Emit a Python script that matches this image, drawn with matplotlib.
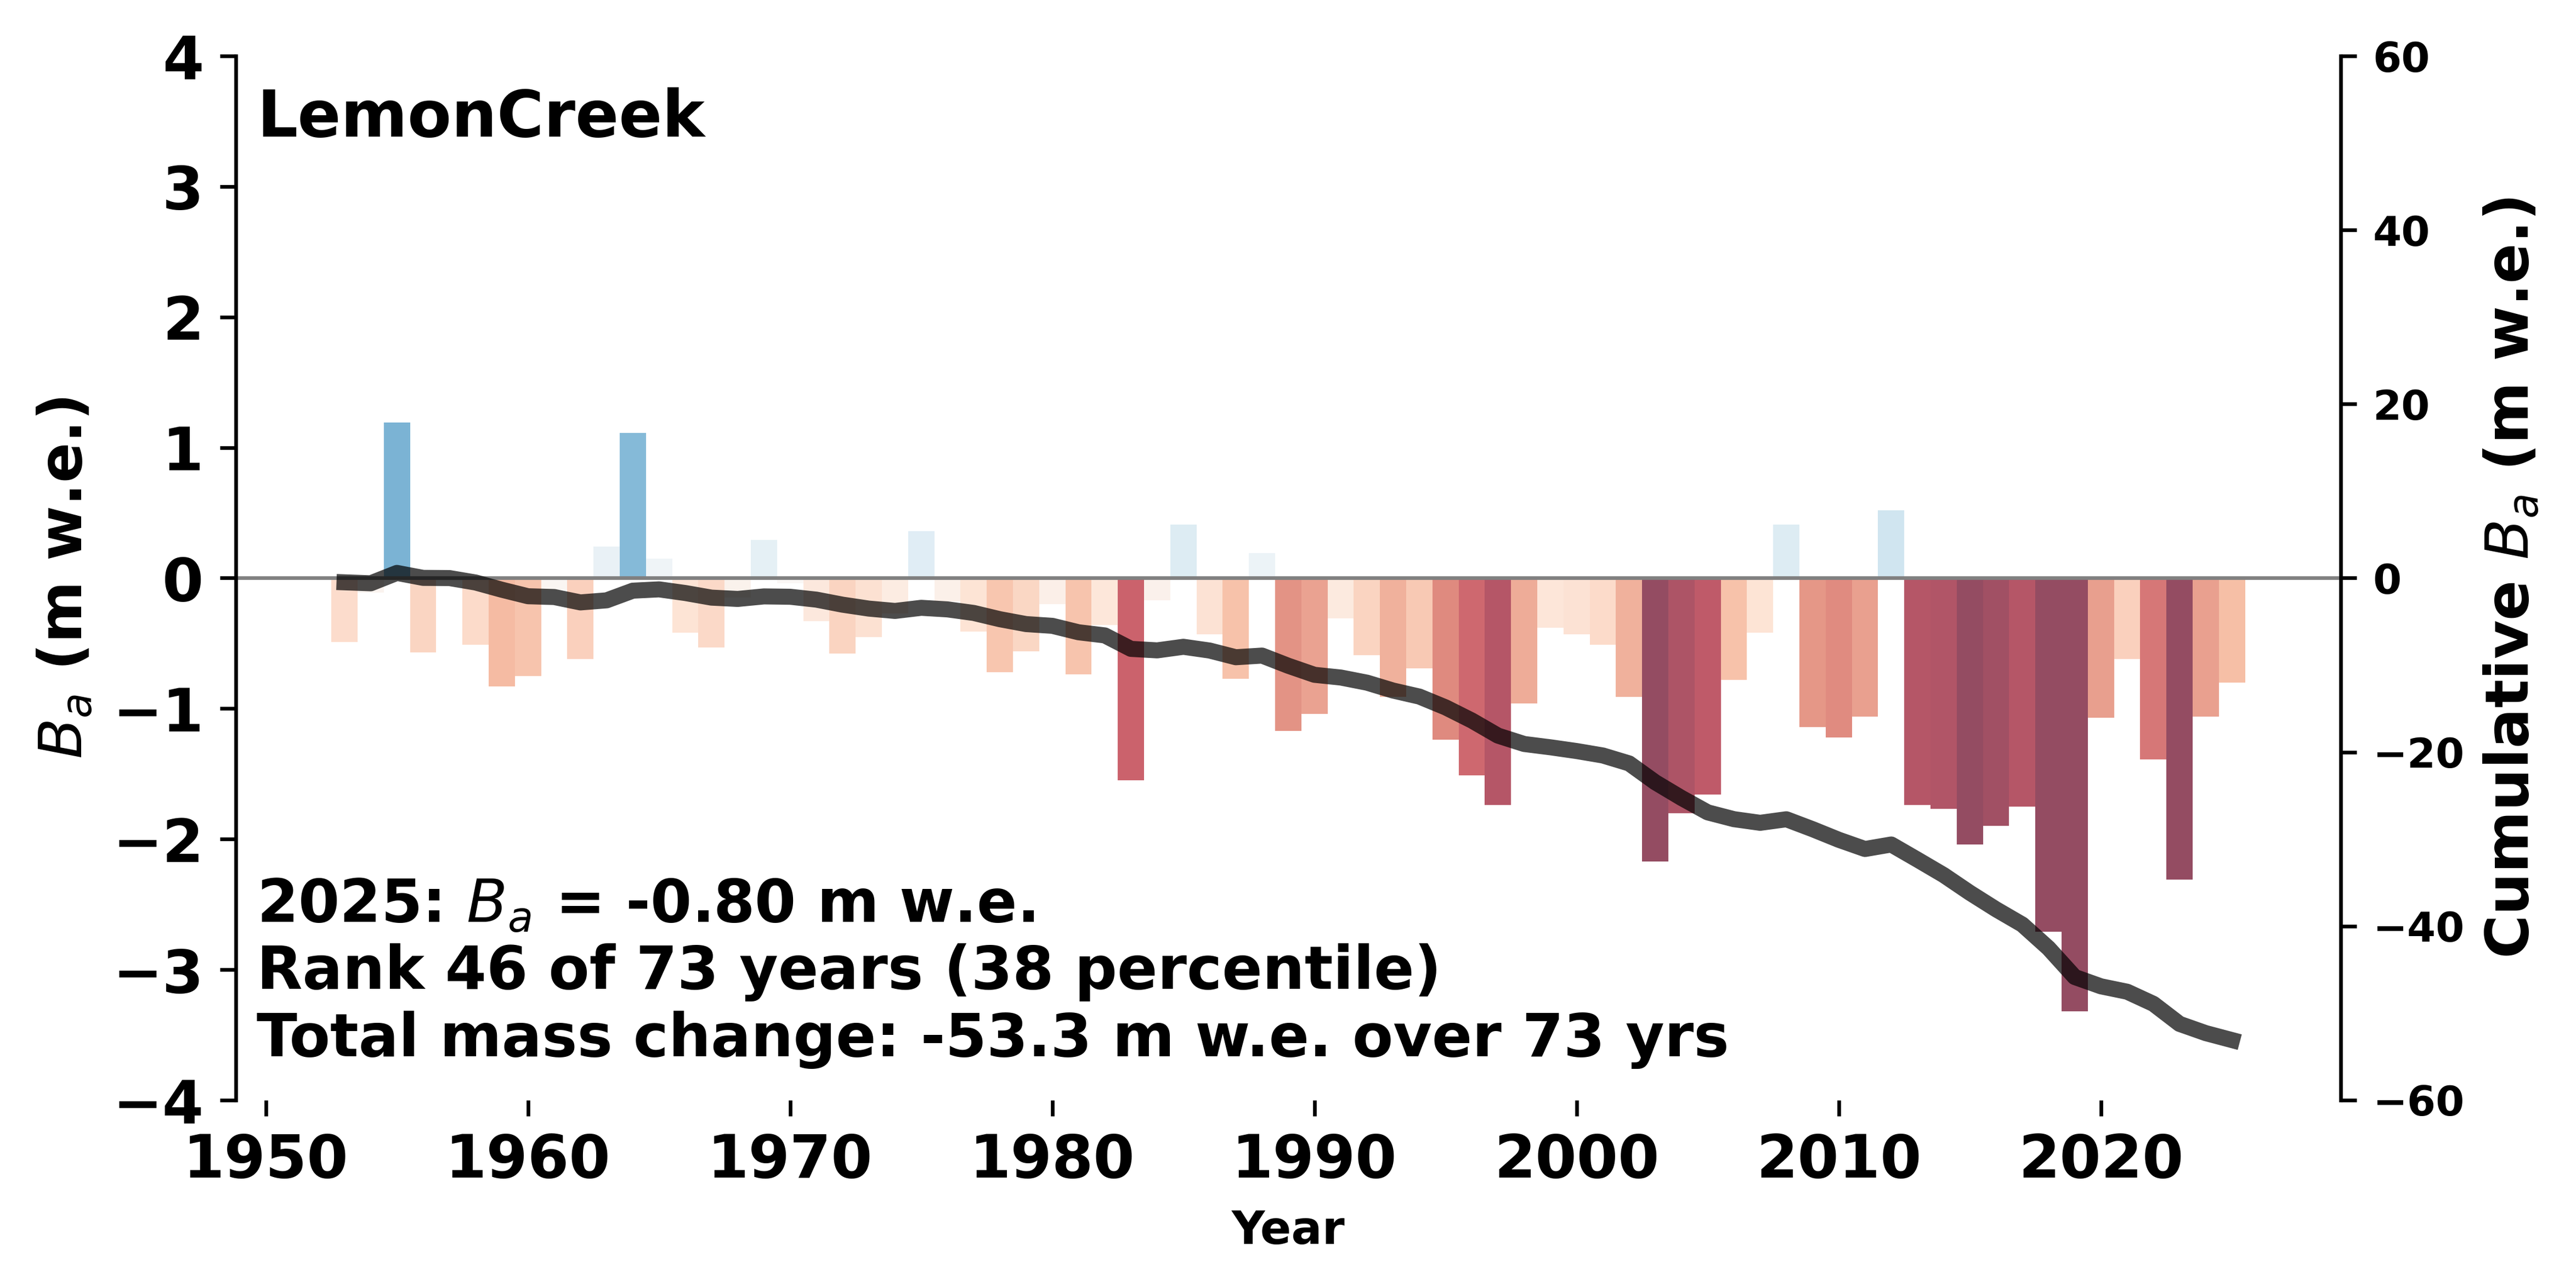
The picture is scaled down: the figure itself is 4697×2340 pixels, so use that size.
import matplotlib
matplotlib.use('Agg')
import matplotlib.pyplot as plt
import numpy as np

glacier = 'LemonCreek'
years = np.arange(1953, 2026)
# annual balance, m w.e.
ba = [-0.49, -0.11, 1.19, -0.57, -0.02, -0.51, -0.83, -0.75, -0.09, -0.62,
      0.24, 1.11, 0.15, -0.42, -0.53, -0.15, 0.29, -0.04, -0.33, -0.58,
      -0.45, -0.27, 0.36, -0.18, -0.41, -0.72, -0.56, -0.20, -0.74, -0.36,
      -1.55, -0.17, 0.41, -0.43, -0.77, 0.19, -1.17, -1.04, -0.31, -0.59,
      -0.91, -0.69, -1.24, -1.51, -1.74, -0.96, -0.38, -0.43, -0.51, -0.91,
      -2.17, -1.80, -1.66, -0.78, -0.42, 0.41, -1.14, -1.22, -1.06, 0.52,
      -1.74, -1.77, -2.04, -1.90, -1.75, -2.71, -3.32, -1.07, -0.62, -1.39,
      -2.31, -1.06, -0.80]
xticks = [1950, 1960, 1970, 1980, 1990, 2000, 2010, 2020]
yticks_left = [-4, -3, -2, -1, 0, 1, 2, 3, 4]
yticks_right = [-60, -40, -20, 0, 20, 40, 60]
info = ['2025: $B_a$ = -0.80 m w.e.',
        'Rank 46 of 73 years (38 percentile)',
        'Total mass change: -53.3 m w.e. over 73 yrs']

ba = np.array(ba)
cum = np.cumsum(ba)

norm = matplotlib.colors.Normalize(vmin=-2, vmax=2)
colors = plt.cm.RdBu(norm(ba))

fig = plt.figure(figsize=(4697 / 600, 2340 / 600), dpi=600)
fig.subplots_adjust(left=0.0915, right=0.9087, bottom=0.1432, top=0.9564)
ax = fig.add_subplot(111)

ax.bar(years, ba, width=1.0, color=colors, alpha=0.7, linewidth=0)
ax.axhline(0, color='gray', linewidth=0.8)
ax.set_ylim(-4, 4)
ax.set_yticks(yticks_left)
ax.set_xticks(xticks)
ax.tick_params(labelsize=13)
for lab in ax.get_xticklabels() + ax.get_yticklabels():
    lab.set_fontweight('bold')
ax.set_ylabel('$B_a$ (m w.e.)', fontsize=13, fontweight='bold')
ax.set_xlabel('Year', fontsize=10, fontweight='bold')
ax.spines['top'].set_visible(False)
ax.spines['right'].set_visible(False)
ax.spines['bottom'].set_visible(False)

ax2 = ax.twinx()
ax2.plot(years, cum, color='k', alpha=0.7, linewidth=3.5)
ax2.set_ylim(-60, 60)
ax2.set_yticks(yticks_right)
ax2.tick_params(labelsize=9)
for lab in ax2.get_yticklabels():
    lab.set_fontweight('bold')
ax2.set_ylabel('Cumulative $B_a$ (m w.e.)', fontsize=13, fontweight='bold')
for s in ['top', 'left', 'bottom']:
    ax2.spines[s].set_visible(False)

ax.text(0.01, 0.97, glacier, transform=ax.transAxes, fontsize=14,
        fontweight='bold', va='top', ha='left')
ax.text(0.01, 0.03, '\n'.join(info), transform=ax.transAxes, fontsize=13,
        fontweight='bold', va='bottom', ha='left')

fig.savefig('out.png', dpi=600)
